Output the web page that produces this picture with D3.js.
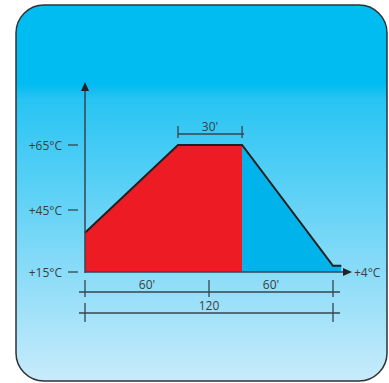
<!DOCTYPE html>
<html>
<head>
<meta charset="utf-8">
<script src="https://cdn.jsdelivr.net/npm/d3@7"></script>
<style>
  html, body { margin: 0; padding: 0; background: #fff; }
  svg { display: block; }
  text { font-family: "Open Sans", "DejaVu Sans", sans-serif; fill: #3a3f45; }
</style>
</head>
<body>
<script>
// profile: time in minutes, temperature (schematic scale)
var profileTime = [0, 45, 76, 120, 124];
var profileTemp = [34, 65, 65, 18, 18];
var heatEnd = 76;            // red (heating) part ends here, blue (cooling) after
var yTicks = [15, 45, 65];
var yTickLabels = ["+15°C", "+45°C", "+65°C"];
var endLabel = "+4°C";
var dimRow1 = [[0, 60, "60'"], [60, 120, "60'"]];
var dimRow2 = [[0, 120, "120"]];
var dimTop = [[45, 76, "30'"]];

var W = 389, H = 383;
var svg = d3.select("body").append("svg").attr("width", W).attr("height", H);

var defs = svg.append("defs");
var grad = defs.append("linearGradient").attr("id", "bg")
    .attr("x1", 0).attr("y1", 0).attr("x2", 0).attr("y2", 1);
grad.append("stop").attr("offset", "0").attr("stop-color", "#00bcf1");
grad.append("stop").attr("offset", "0.21").attr("stop-color", "#00bcf1");
grad.append("stop").attr("offset", "0.25").attr("stop-color", "#28c4f3");
grad.append("stop").attr("offset", "1").attr("stop-color", "#c8ebfb");

svg.append("rect")
   .attr("x", 16).attr("y", 5)
   .attr("width", 371).attr("height", 376)
   .attr("rx", 28).attr("ry", 28)
   .attr("fill", "url(#bg)")
   .attr("stroke", "#2f3336")
   .attr("stroke-width", 1.5);

var x = d3.scaleLinear().domain([0, 120]).range([85, 333]);
// schematic, piecewise y scale
var y = d3.scaleLinear().domain([15, 45, 65]).range([272, 210, 145]);

var pts = profileTime.map(function(t, i) { return [t, profileTemp[i]]; });

var area = d3.area()
    .x(function(d) { return x(d[0]); })
    .y0(y(15))
    .y1(function(d) { return y(d[1]); });

var heat = pts.filter(function(d) { return d[0] <= heatEnd; });
var cool = pts.filter(function(d) { return d[0] >= heatEnd; });

svg.append("path").datum(heat).attr("d", area).attr("fill", "#ed1c24");
svg.append("path").datum(cool).attr("d", area).attr("fill", "#00b3ea");

svg.append("path").datum(pts)
   .attr("d", d3.line().x(function(d) { return x(d[0]); }).y(function(d) { return y(d[1]); }))
   .attr("fill", "none")
   .attr("stroke", "#231f20")
   .attr("stroke-width", 2)
   .attr("stroke-linejoin", "miter");

// axes
var axisCol = "#354450";
var x0 = x(0), yBase = y(15);
svg.append("line").attr("x1", x0).attr("x2", x0).attr("y1", yBase + 1).attr("y2", 90)
   .attr("stroke", axisCol).attr("stroke-width", 1.5);
svg.append("path").attr("d", "M" + x0 + ",82 L" + (x0 - 4) + ",91 L" + (x0 + 4) + ",91 Z")
   .attr("fill", "#222");
svg.append("line").attr("x1", x0).attr("x2", 344).attr("y1", yBase).attr("y2", yBase)
   .attr("stroke", axisCol).attr("stroke-width", 1.5);
svg.append("path").attr("d", "M352," + yBase + " L343," + (yBase - 4) + " L343," + (yBase + 4) + " Z")
   .attr("fill", "#222");
svg.append("text").attr("x", 354).attr("y", yBase + 4.5)
   .attr("font-size", 12).text(endLabel);

// y tick labels with dash
yTicks.forEach(function(v, i) {
  svg.append("text").attr("x", 62).attr("y", y(v) + 4.5)
     .attr("text-anchor", "end").attr("font-size", 12).text(yTickLabels[i]);
  svg.append("line").attr("x1", 68).attr("x2", 78).attr("y1", y(v)).attr("y2", y(v))
     .attr("stroke", axisCol).attr("stroke-width", 1.3);
});

// dimension lines
function dimRow(segs, yLine, tickTop, tickBot, labelY) {
  var lo = d3.min(segs, function(s) { return s[0]; });
  var hi = d3.max(segs, function(s) { return s[1]; });
  svg.append("line").attr("x1", x(lo) - 6).attr("x2", x(hi) + 7)
     .attr("y1", yLine).attr("y2", yLine)
     .attr("stroke", axisCol).attr("stroke-width", 1.3);
  var ends = [];
  segs.forEach(function(s) { ends.push(s[0], s[1]); });
  ends = Array.from(new Set(ends));
  ends.forEach(function(t) {
    svg.append("line").attr("x1", x(t)).attr("x2", x(t))
       .attr("y1", tickTop).attr("y2", tickBot)
       .attr("stroke", axisCol).attr("stroke-width", 1.3);
  });
  segs.forEach(function(s) {
    svg.append("text").attr("x", (x(s[0]) + x(s[1])) / 2).attr("y", labelY)
       .attr("text-anchor", "middle").attr("font-size", 12).text(s[2]);
  });
}
dimRow(dimRow1, 292, 280, 297, 289);
dimRow(dimRow2, 313, 303, 322, 310);

// 30' top dimension (no overhang)
dimTop.forEach(function(s) {
  svg.append("line").attr("x1", x(s[0])).attr("x2", x(s[1]) + 2)
     .attr("y1", 134).attr("y2", 134)
     .attr("stroke", axisCol).attr("stroke-width", 1.3);
  [s[0], s[1]].forEach(function(t) {
    svg.append("line").attr("x1", x(t)).attr("x2", x(t))
       .attr("y1", 126).attr("y2", 138)
       .attr("stroke", axisCol).attr("stroke-width", 1.3);
  });
  svg.append("text").attr("x", (x(s[0]) + x(s[1])) / 2).attr("y", 131)
     .attr("text-anchor", "middle").attr("font-size", 12).text(s[2]);
});
</script>
</body>
</html>
